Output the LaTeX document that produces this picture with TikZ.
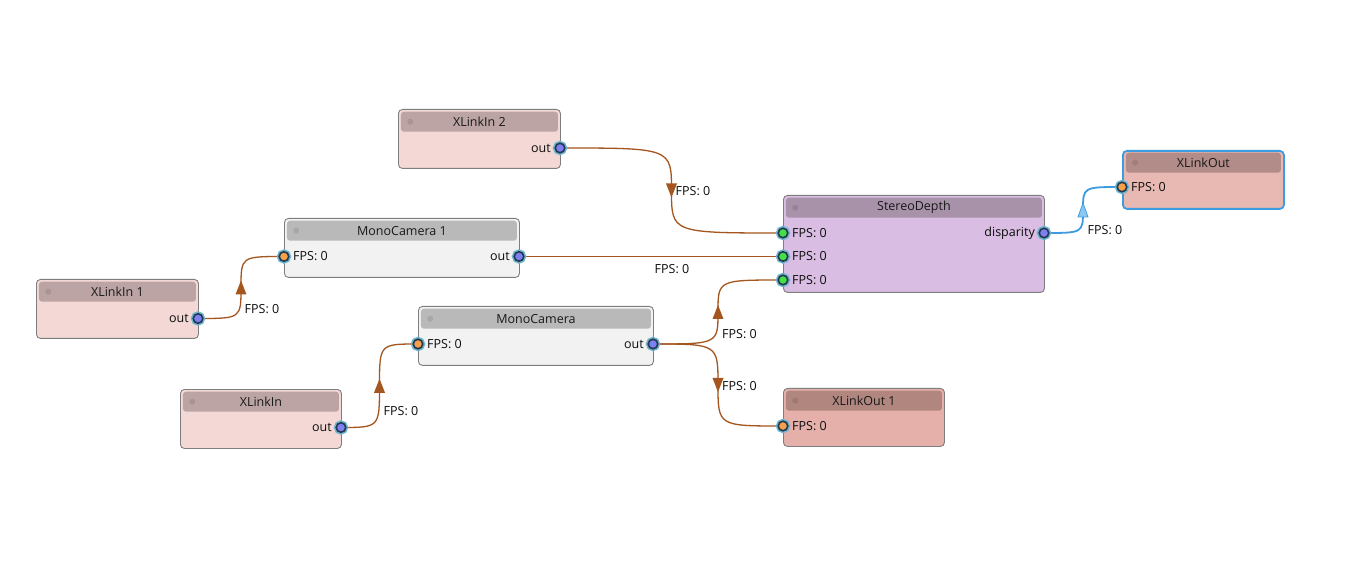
\documentclass[tikz,border=0pt]{standalone}
\usepackage{fontspec}
\setmainfont{Open Sans}
\usetikzlibrary{calc}

\definecolor{xinbody}{HTML}{F3D8D5}
\definecolor{xinhead}{HTML}{BBA4A3}
\definecolor{monobody}{HTML}{F2F2F2}
\definecolor{monohead}{HTML}{B9B9B9}
\definecolor{stereobody}{HTML}{D9BDE2}
\definecolor{stereohead}{HTML}{A792AA}
\definecolor{xoutbody}{HTML}{E8B9B3}
\definecolor{xouthead}{HTML}{B28C88}
\definecolor{xoutbodyb}{HTML}{E5B0AA}
\definecolor{xoutheadb}{HTML}{B0867F}
\definecolor{blockborder}{HTML}{7E7E7E}
\definecolor{selblue}{HTML}{3D9BE0}
\definecolor{arrowblue}{HTML}{8CC8F0}
\definecolor{linkbrown}{HTML}{A5561E}
\definecolor{portout}{HTML}{7F7FF5}
\definecolor{portin}{HTML}{F7A04A}
\definecolor{portgreen}{HTML}{45E045}
\definecolor{portring}{HTML}{23384D}
\definecolor{porthalo}{HTML}{6FB4CE}

\tikzset{
  block/.style={draw=blockborder, line width=0.9, rounded corners=4, anchor=north west, inner sep=0},
  head/.style={rounded corners=3, minimum height=20, anchor=north, inner sep=0, text=black!90},
  port/.style={circle, minimum size=9.5, inner sep=0, draw=portring, line width=1.6,
    preaction={draw=porthalo, line width=4.8}},
  link/.style={draw=linkbrown, line width=1.3},
  lbl/.style={inner sep=0, text=black!95},
}

\begin{document}
\begin{tikzpicture}[x=1pt, y=-1pt, font=\fontsize{12.5}{14}\selectfont]
    \useasboundingbox (0,0) rectangle (1358,577);
    \fill[white] (0,0) rectangle (1358,577);

    % blocks
    \node[block, fill=xinbody, minimum width=162, minimum height=59] (xin2) at (398,109) {};
    \node[head, fill=xinhead, minimum width=157] (xin2h) at ($(xin2.north)+(0,2.5)$) {XLinkIn 2};
    \node[block, fill=xinbody, minimum width=162, minimum height=59] (xin1) at (36,279) {};
    \node[head, fill=xinhead, minimum width=157] (xin1h) at ($(xin1.north)+(0,2.5)$) {XLinkIn 1};
    \node[block, fill=xinbody, minimum width=161, minimum height=59] (xin0) at (180,389) {};
    \node[head, fill=xinhead, minimum width=156] (xin0h) at ($(xin0.north)+(0,2.5)$) {XLinkIn};
    \node[block, fill=monobody, minimum width=235, minimum height=59] (mono1) at (284,218) {};
    \node[head, fill=monohead, minimum width=230] (mono1h) at ($(mono1.north)+(0,2.5)$) {MonoCamera 1};
    \node[block, fill=monobody, minimum width=235, minimum height=59] (mono0) at (418,306) {};
    \node[head, fill=monohead, minimum width=230] (mono0h) at ($(mono0.north)+(0,2.5)$) {MonoCamera};
    \node[block, fill=stereobody, minimum width=261, minimum height=97] (sd) at (783,195) {};
    \node[head, fill=stereohead, minimum width=256] (sdh) at ($(sd.north)+(0,2.5)$) {StereoDepth};
    \node[block, fill=xoutbody, draw=selblue, line width=1.8, minimum width=161, minimum height=58] (xout0) at (1122,150) {};
    \node[head, fill=xouthead, minimum width=155] (xout0h) at ($(xout0.north)+(0,2.5)$) {XLinkOut};
    \node[block, fill=xoutbodyb, minimum width=161, minimum height=58] (xout1) at (783,388) {};
    \node[head, fill=xoutheadb, minimum width=156] (xout1h) at ($(xout1.north)+(0,2.5)$) {XLinkOut 1};

    % header dots
    \foreach \h/\c in {xin2h/xinhead, xin1h/xinhead, xin0h/xinhead, mono1h/monohead, mono0h/monohead,
                       sdh/stereohead, xout0h/xouthead, xout1h/xoutheadb}
        \fill[\c!90!black] ($(\h.west)+(9.5,0)$) circle (3);

    % port positions
    \coordinate (xin2o) at (560,148);
    \coordinate (xin1o) at (198,318.5);
    \coordinate (xin0o) at (341,427.5);
    \coordinate (mono1i) at (284,256.5);
    \coordinate (mono1o) at (519,256.5);
    \coordinate (mono0i) at (418,344);
    \coordinate (mono0o) at (653,344);
    \coordinate (sdi1) at (783,233);
    \coordinate (sdi2) at (783,256.5);
    \coordinate (sdi3) at (783,280);
    \coordinate (sdo) at (1044,233);
    \coordinate (xout0i) at (1122,187);
    \coordinate (xout1i) at (783,426);

    % links
    \foreach \a/\b/\m/\s/\lx/\ly in {xin2o/sdi1/m1/1/21.5/0.5, mono0o/sdi3/m3/-1/21.5/22,
                                    mono0o/xout1i/m4/1/21.5/1, xin1o/mono1i/m5/-1/21/22,
                                    xin0o/mono0i/m6/-1/21.5/25.5} {
        \coordinate (\m) at ($(\a)!0.5!(\b)$);
        \draw[link] (\a) .. controls (\a -| \m) .. (\m) .. controls (\m |- \b) .. (\b);
        \fill[linkbrown] ($(\m)+(-5.5,{-7*\s})$) -- ($(\m)+(5.5,{-7*\s})$) -- ($(\m)+(0,{7*\s})$) -- cycle;
        \node[lbl] at ($(\m)+(\lx,\ly)$) {FPS: 0};
    }
    \coordinate (m2) at ($(mono1o)!0.5!(sdi2)$);
    \draw[link] (mono1o) -- (sdi2);
    \node[lbl] at ($(m2)+(21,13)$) {FPS: 0};

    % selected link
    \coordinate (m7) at ($(sdo)!0.5!(xout0i)$);
    \draw[selblue, line width=1.8] (sdo) .. controls (sdo -| m7) .. (m7) .. controls (m7 |- xout0i) .. (xout0i);
    \draw[fill=arrowblue, draw=selblue, line width=0.8] ($(m7)+(-5,7)$) -- ($(m7)+(5,7)$) -- ($(m7)+(0,-7)$) -- cycle;
    \node[lbl] at ($(m7)+(22,20)$) {FPS: 0};

    % ports
    \foreach \p/\c in {xin2o/portout, xin1o/portout, xin0o/portout, mono1o/portout, mono0o/portout, sdo/portout,
                       mono1i/portin, mono0i/portin, xout0i/portin, xout1i/portin,
                       sdi1/portgreen, sdi2/portgreen, sdi3/portgreen}
        \node[port, fill=\c] at (\p) {};

    % port labels
    \foreach \p in {xin2o, xin1o, xin0o, mono1o, mono0o}
        \node[lbl, anchor=east] at ($(\p)+(-9,0)$) {out};
    \node[lbl, anchor=east] at ($(sdo)+(-9,0)$) {disparity};
    \foreach \p in {mono1i, mono0i, sdi1, sdi2, sdi3, xout0i, xout1i}
        \node[lbl, anchor=west] at ($(\p)+(9,0)$) {FPS: 0};
\end{tikzpicture}
\end{document}
